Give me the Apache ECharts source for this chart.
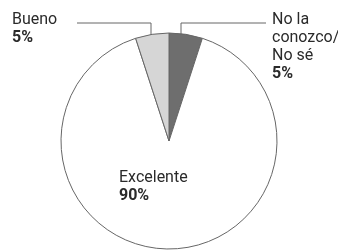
<!DOCTYPE html>
<html><head><meta charset="utf-8">
<script src="https://cdn.jsdelivr.net/npm/echarts@6/dist/echarts.min.js"></script>
<style>html,body{margin:0;padding:0;background:#fff}#c{width:338px;height:251px}</style>
</head><body><div id="c"></div>
<script>
const categories = ['No la\nconozco/\nNo sé', 'Excelente', 'Bueno'];
const values = [5, 90, 5];
const colors = ['#6e6e6e', '#ffffff', '#d6d6d6'];
const labelPos = [[272, 11], [119, 169], [12, 11]];

const chart = echarts.init(document.getElementById('c'), null, {renderer: 'canvas'});
chart.setOption({
  animation: false,
  series: [{
    type: 'pie',
    center: [169, 141],
    radius: [0, 108],
    startAngle: 90,
    clockwise: true,
    data: categories.map((c, i) => ({name: c, value: values[i], itemStyle: {color: colors[i]}})),
    itemStyle: {borderColor: '#666', borderWidth: 1},
    emphasis: {disabled: true},
    label: {
      show: true,
      position: 'inside',
      formatter: p => '{n|' + p.name.split('\n').join('}\n{n|') + '}\n{p|' + p.value + '%}',
      rich: {
        n: {fontFamily: 'Roboto', fontSize: 16, color: '#2a2a2a', lineHeight: 18},
        p: {fontFamily: 'Roboto', fontSize: 16, fontWeight: 'bold', color: '#2a2a2a', lineHeight: 18}
      }
    },
    labelLine: {show: false},
    labelLayout: p => ({x: labelPos[p.dataIndex][0], y: labelPos[p.dataIndex][1], align: 'left', verticalAlign: 'top'})
  }],
  graphic: [
    {type: 'polyline', shape: {points: [[77, 23], [151, 23], [151, 43]]}, style: {stroke: '#666', lineWidth: 1, fill: null}},
    {type: 'polyline', shape: {points: [[266, 23], [181, 23], [181, 40]]}, style: {stroke: '#666', lineWidth: 1, fill: null}}
  ]
});
</script></body></html>
